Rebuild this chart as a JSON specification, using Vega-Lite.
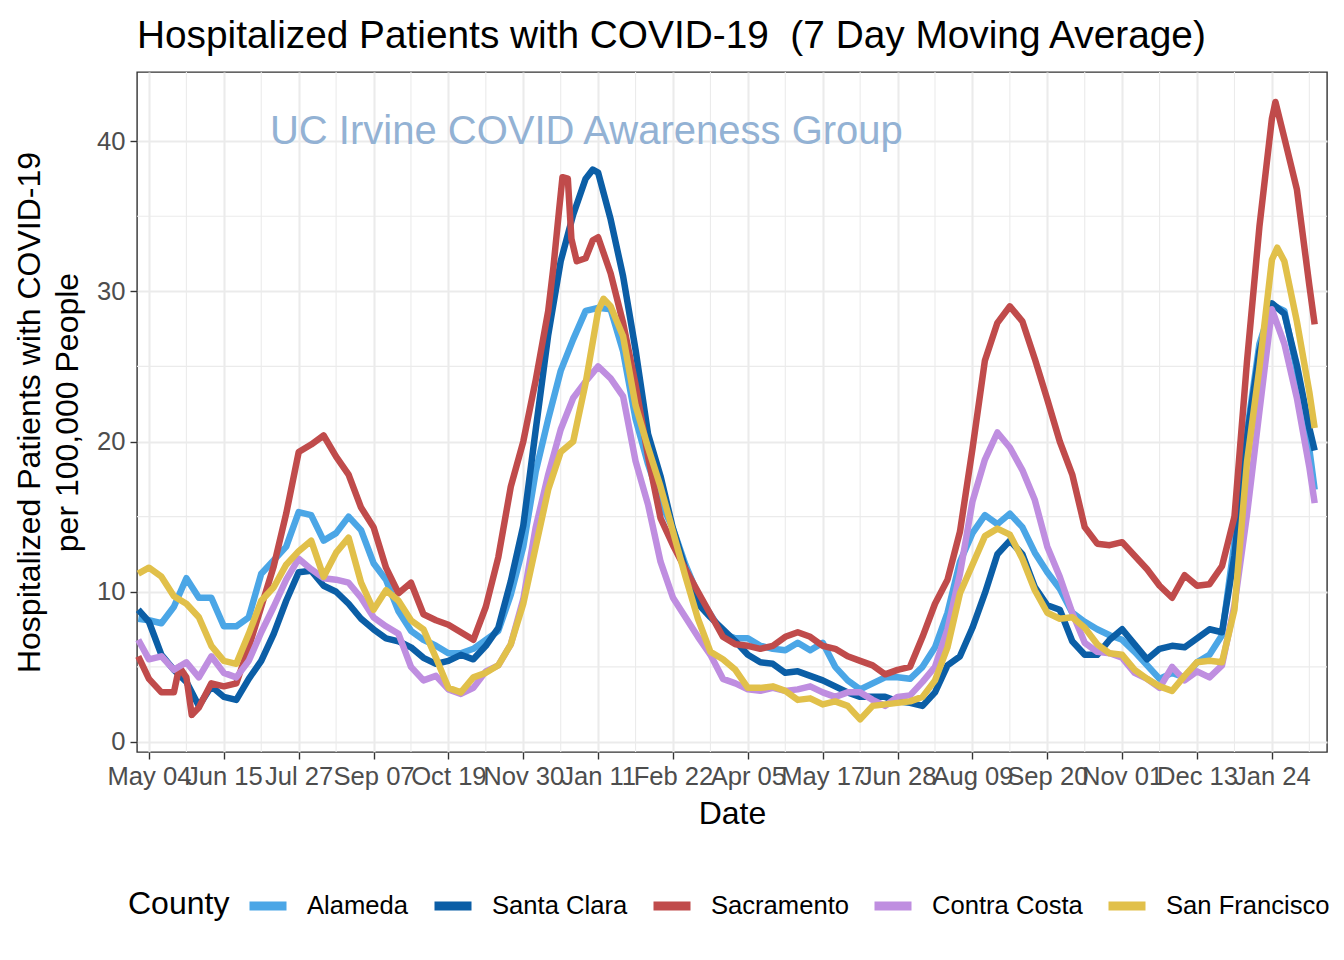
{
"$schema": "https://vega.github.io/schema/vega-lite/v6.json",
"autosize": {"type": "none"},
"width": 1190,
"height": 680,
"padding": {"left": 137, "top": 72, "right": 17, "bottom": 208},
"background": "#ffffff",
"title": {"text": "Hospitalized Patients with COVID-19\u00a0 (7 Day Moving Average)"},
"datasets": {
"series": [
{"date":"2020-04-28","county":"Alameda","value":8.2},{"date":"2020-05-04","county":"Alameda","value":8.1},{"date":"2020-05-11","county":"Alameda","value":7.9},{"date":"2020-05-18","county":"Alameda","value":9.0},{"date":"2020-05-25","county":"Alameda","value":10.9},{"date":"2020-06-01","county":"Alameda","value":9.6},{"date":"2020-06-08","county":"Alameda","value":9.6},{"date":"2020-06-15","county":"Alameda","value":7.7},{"date":"2020-06-22","county":"Alameda","value":7.7},{"date":"2020-06-29","county":"Alameda","value":8.3},{"date":"2020-07-06","county":"Alameda","value":11.2},{"date":"2020-07-13","county":"Alameda","value":12.1},{"date":"2020-07-20","county":"Alameda","value":13.0},{"date":"2020-07-27","county":"Alameda","value":15.3},{"date":"2020-08-03","county":"Alameda","value":15.1},{"date":"2020-08-10","county":"Alameda","value":13.4},{"date":"2020-08-17","county":"Alameda","value":13.9},{"date":"2020-08-24","county":"Alameda","value":15.0},{"date":"2020-08-31","county":"Alameda","value":14.1},{"date":"2020-09-07","county":"Alameda","value":11.9},{"date":"2020-09-14","county":"Alameda","value":10.8},{"date":"2020-09-21","county":"Alameda","value":8.7},{"date":"2020-09-28","county":"Alameda","value":7.4},{"date":"2020-10-05","county":"Alameda","value":6.8},{"date":"2020-10-12","county":"Alameda","value":6.4},{"date":"2020-10-19","county":"Alameda","value":5.9},{"date":"2020-10-26","county":"Alameda","value":5.9},{"date":"2020-11-02","county":"Alameda","value":6.2},{"date":"2020-11-09","county":"Alameda","value":6.8},{"date":"2020-11-16","county":"Alameda","value":7.4},{"date":"2020-11-23","county":"Alameda","value":9.8},{"date":"2020-11-30","county":"Alameda","value":13.0},{"date":"2020-12-07","county":"Alameda","value":18.0},{"date":"2020-12-14","county":"Alameda","value":21.5},{"date":"2020-12-21","county":"Alameda","value":24.7},{"date":"2020-12-28","county":"Alameda","value":26.8},{"date":"2021-01-04","county":"Alameda","value":28.7},{"date":"2021-01-11","county":"Alameda","value":28.9},{"date":"2021-01-18","county":"Alameda","value":28.8},{"date":"2021-01-25","county":"Alameda","value":26.0},{"date":"2021-02-01","county":"Alameda","value":21.5},{"date":"2021-02-08","county":"Alameda","value":18.5},{"date":"2021-02-15","county":"Alameda","value":16.0},{"date":"2021-02-22","county":"Alameda","value":14.2},{"date":"2021-03-01","county":"Alameda","value":11.8},{"date":"2021-03-08","county":"Alameda","value":9.8},{"date":"2021-03-15","county":"Alameda","value":8.5},{"date":"2021-03-22","county":"Alameda","value":7.2},{"date":"2021-03-29","county":"Alameda","value":6.9},{"date":"2021-04-05","county":"Alameda","value":6.9},{"date":"2021-04-12","county":"Alameda","value":6.4},{"date":"2021-04-19","county":"Alameda","value":6.2},{"date":"2021-04-26","county":"Alameda","value":6.1},{"date":"2021-05-03","county":"Alameda","value":6.6},{"date":"2021-05-10","county":"Alameda","value":6.1},{"date":"2021-05-17","county":"Alameda","value":6.6},{"date":"2021-05-24","county":"Alameda","value":5.0},{"date":"2021-05-31","county":"Alameda","value":4.1},{"date":"2021-06-07","county":"Alameda","value":3.5},{"date":"2021-06-14","county":"Alameda","value":3.9},{"date":"2021-06-21","county":"Alameda","value":4.3},{"date":"2021-06-28","county":"Alameda","value":4.3},{"date":"2021-07-05","county":"Alameda","value":4.2},{"date":"2021-07-12","county":"Alameda","value":5.0},{"date":"2021-07-19","county":"Alameda","value":6.3},{"date":"2021-07-26","county":"Alameda","value":8.6},{"date":"2021-08-02","county":"Alameda","value":12.0},{"date":"2021-08-09","county":"Alameda","value":13.9},{"date":"2021-08-16","county":"Alameda","value":15.1},{"date":"2021-08-23","county":"Alameda","value":14.5},{"date":"2021-08-30","county":"Alameda","value":15.2},{"date":"2021-09-06","county":"Alameda","value":14.3},{"date":"2021-09-13","county":"Alameda","value":12.6},{"date":"2021-09-20","county":"Alameda","value":11.3},{"date":"2021-09-27","county":"Alameda","value":10.2},{"date":"2021-10-04","county":"Alameda","value":8.6},{"date":"2021-10-11","county":"Alameda","value":8.0},{"date":"2021-10-18","county":"Alameda","value":7.5},{"date":"2021-10-25","county":"Alameda","value":7.1},{"date":"2021-11-01","county":"Alameda","value":6.8},{"date":"2021-11-08","county":"Alameda","value":6.0},{"date":"2021-11-15","county":"Alameda","value":5.1},{"date":"2021-11-22","county":"Alameda","value":4.2},{"date":"2021-11-29","county":"Alameda","value":4.6},{"date":"2021-12-06","county":"Alameda","value":4.3},{"date":"2021-12-13","county":"Alameda","value":5.3},{"date":"2021-12-20","county":"Alameda","value":5.8},{"date":"2021-12-27","county":"Alameda","value":7.1},{"date":"2022-01-03","county":"Alameda","value":13.3},{"date":"2022-01-10","county":"Alameda","value":20.6},{"date":"2022-01-17","county":"Alameda","value":26.5},{"date":"2022-01-24","county":"Alameda","value":29.1},{"date":"2022-01-31","county":"Alameda","value":28.7},{"date":"2022-02-07","county":"Alameda","value":24.7},{"date":"2022-02-14","county":"Alameda","value":19.5},{"date":"2022-02-17","county":"Alameda","value":16.8},
{"date":"2020-04-28","county":"Santa Clara","value":8.8},{"date":"2020-05-04","county":"Santa Clara","value":8.0},{"date":"2020-05-11","county":"Santa Clara","value":5.8},{"date":"2020-05-18","county":"Santa Clara","value":4.8},{"date":"2020-05-25","county":"Santa Clara","value":4.0},{"date":"2020-06-01","county":"Santa Clara","value":2.4},{"date":"2020-06-08","county":"Santa Clara","value":3.7},{"date":"2020-06-15","county":"Santa Clara","value":3.0},{"date":"2020-06-22","county":"Santa Clara","value":2.8},{"date":"2020-06-29","county":"Santa Clara","value":4.2},{"date":"2020-07-06","county":"Santa Clara","value":5.4},{"date":"2020-07-13","county":"Santa Clara","value":7.2},{"date":"2020-07-20","county":"Santa Clara","value":9.4},{"date":"2020-07-27","county":"Santa Clara","value":11.3},{"date":"2020-08-03","county":"Santa Clara","value":11.4},{"date":"2020-08-10","county":"Santa Clara","value":10.4},{"date":"2020-08-17","county":"Santa Clara","value":10.0},{"date":"2020-08-24","county":"Santa Clara","value":9.2},{"date":"2020-08-31","county":"Santa Clara","value":8.2},{"date":"2020-09-07","county":"Santa Clara","value":7.5},{"date":"2020-09-14","county":"Santa Clara","value":6.9},{"date":"2020-09-21","county":"Santa Clara","value":6.7},{"date":"2020-09-28","county":"Santa Clara","value":6.3},{"date":"2020-10-05","county":"Santa Clara","value":5.6},{"date":"2020-10-12","county":"Santa Clara","value":5.2},{"date":"2020-10-19","county":"Santa Clara","value":5.4},{"date":"2020-10-26","county":"Santa Clara","value":5.8},{"date":"2020-11-02","county":"Santa Clara","value":5.5},{"date":"2020-11-09","county":"Santa Clara","value":6.4},{"date":"2020-11-16","county":"Santa Clara","value":7.6},{"date":"2020-11-23","county":"Santa Clara","value":10.7},{"date":"2020-11-30","county":"Santa Clara","value":14.4},{"date":"2020-12-07","county":"Santa Clara","value":20.8},{"date":"2020-12-14","county":"Santa Clara","value":27.1},{"date":"2020-12-21","county":"Santa Clara","value":32.0},{"date":"2020-12-28","county":"Santa Clara","value":35.1},{"date":"2021-01-04","county":"Santa Clara","value":37.5},{"date":"2021-01-08","county":"Santa Clara","value":38.1},{"date":"2021-01-11","county":"Santa Clara","value":37.9},{"date":"2021-01-18","county":"Santa Clara","value":34.8},{"date":"2021-01-25","county":"Santa Clara","value":31.0},{"date":"2021-02-01","county":"Santa Clara","value":26.1},{"date":"2021-02-08","county":"Santa Clara","value":20.5},{"date":"2021-02-15","county":"Santa Clara","value":17.7},{"date":"2021-02-22","county":"Santa Clara","value":14.2},{"date":"2021-03-01","county":"Santa Clara","value":11.5},{"date":"2021-03-08","county":"Santa Clara","value":9.2},{"date":"2021-03-15","county":"Santa Clara","value":8.3},{"date":"2021-03-22","county":"Santa Clara","value":7.5},{"date":"2021-03-29","county":"Santa Clara","value":6.7},{"date":"2021-04-05","county":"Santa Clara","value":5.8},{"date":"2021-04-12","county":"Santa Clara","value":5.3},{"date":"2021-04-19","county":"Santa Clara","value":5.2},{"date":"2021-04-26","county":"Santa Clara","value":4.6},{"date":"2021-05-03","county":"Santa Clara","value":4.7},{"date":"2021-05-10","county":"Santa Clara","value":4.4},{"date":"2021-05-17","county":"Santa Clara","value":4.1},{"date":"2021-05-24","county":"Santa Clara","value":3.7},{"date":"2021-05-31","county":"Santa Clara","value":3.3},{"date":"2021-06-07","county":"Santa Clara","value":3.0},{"date":"2021-06-14","county":"Santa Clara","value":3.0},{"date":"2021-06-21","county":"Santa Clara","value":3.0},{"date":"2021-06-28","county":"Santa Clara","value":2.7},{"date":"2021-07-05","county":"Santa Clara","value":2.6},{"date":"2021-07-12","county":"Santa Clara","value":2.4},{"date":"2021-07-19","county":"Santa Clara","value":3.3},{"date":"2021-07-26","county":"Santa Clara","value":5.1},{"date":"2021-08-02","county":"Santa Clara","value":5.7},{"date":"2021-08-09","county":"Santa Clara","value":7.6},{"date":"2021-08-16","county":"Santa Clara","value":9.9},{"date":"2021-08-23","county":"Santa Clara","value":12.5},{"date":"2021-08-30","county":"Santa Clara","value":13.4},{"date":"2021-09-06","county":"Santa Clara","value":12.5},{"date":"2021-09-13","county":"Santa Clara","value":10.3},{"date":"2021-09-20","county":"Santa Clara","value":9.1},{"date":"2021-09-27","county":"Santa Clara","value":8.8},{"date":"2021-10-04","county":"Santa Clara","value":6.7},{"date":"2021-10-11","county":"Santa Clara","value":5.8},{"date":"2021-10-18","county":"Santa Clara","value":5.8},{"date":"2021-10-25","county":"Santa Clara","value":6.8},{"date":"2021-11-01","county":"Santa Clara","value":7.5},{"date":"2021-11-08","county":"Santa Clara","value":6.5},{"date":"2021-11-15","county":"Santa Clara","value":5.5},{"date":"2021-11-22","county":"Santa Clara","value":6.2},{"date":"2021-11-29","county":"Santa Clara","value":6.4},{"date":"2021-12-06","county":"Santa Clara","value":6.3},{"date":"2021-12-13","county":"Santa Clara","value":6.9},{"date":"2021-12-20","county":"Santa Clara","value":7.5},{"date":"2021-12-27","county":"Santa Clara","value":7.3},{"date":"2022-01-03","county":"Santa Clara","value":12.4},{"date":"2022-01-10","county":"Santa Clara","value":20.3},{"date":"2022-01-17","county":"Santa Clara","value":26.0},{"date":"2022-01-24","county":"Santa Clara","value":29.2},{"date":"2022-01-31","county":"Santa Clara","value":28.5},{"date":"2022-02-07","county":"Santa Clara","value":25.1},{"date":"2022-02-14","county":"Santa Clara","value":20.9},{"date":"2022-02-17","county":"Santa Clara","value":19.4},
{"date":"2020-04-28","county":"Sacramento","value":5.7},{"date":"2020-05-04","county":"Sacramento","value":4.2},{"date":"2020-05-11","county":"Sacramento","value":3.3},{"date":"2020-05-18","county":"Sacramento","value":3.3},{"date":"2020-05-21","county":"Sacramento","value":5.0},{"date":"2020-05-25","county":"Sacramento","value":4.3},{"date":"2020-05-28","county":"Sacramento","value":1.8},{"date":"2020-06-01","county":"Sacramento","value":2.3},{"date":"2020-06-08","county":"Sacramento","value":3.9},{"date":"2020-06-15","county":"Sacramento","value":3.7},{"date":"2020-06-22","county":"Sacramento","value":3.9},{"date":"2020-06-29","county":"Sacramento","value":6.3},{"date":"2020-07-06","county":"Sacramento","value":9.0},{"date":"2020-07-13","county":"Sacramento","value":11.7},{"date":"2020-07-20","county":"Sacramento","value":15.2},{"date":"2020-07-27","county":"Sacramento","value":19.3},{"date":"2020-08-03","county":"Sacramento","value":19.8},{"date":"2020-08-10","county":"Sacramento","value":20.4},{"date":"2020-08-17","county":"Sacramento","value":19.0},{"date":"2020-08-24","county":"Sacramento","value":17.8},{"date":"2020-08-31","county":"Sacramento","value":15.6},{"date":"2020-09-07","county":"Sacramento","value":14.3},{"date":"2020-09-14","county":"Sacramento","value":11.6},{"date":"2020-09-21","county":"Sacramento","value":9.9},{"date":"2020-09-28","county":"Sacramento","value":10.6},{"date":"2020-10-05","county":"Sacramento","value":8.5},{"date":"2020-10-12","county":"Sacramento","value":8.1},{"date":"2020-10-19","county":"Sacramento","value":7.8},{"date":"2020-10-26","county":"Sacramento","value":7.3},{"date":"2020-11-02","county":"Sacramento","value":6.8},{"date":"2020-11-09","county":"Sacramento","value":9.0},{"date":"2020-11-16","county":"Sacramento","value":12.3},{"date":"2020-11-23","county":"Sacramento","value":17.0},{"date":"2020-11-30","county":"Sacramento","value":20.0},{"date":"2020-12-07","county":"Sacramento","value":24.1},{"date":"2020-12-14","county":"Sacramento","value":28.7},{"date":"2020-12-17","county":"Sacramento","value":31.7},{"date":"2020-12-20","county":"Sacramento","value":35.3},{"date":"2020-12-22","county":"Sacramento","value":37.6},{"date":"2020-12-25","county":"Sacramento","value":37.5},{"date":"2020-12-27","county":"Sacramento","value":33.5},{"date":"2020-12-30","county":"Sacramento","value":32.0},{"date":"2021-01-04","county":"Sacramento","value":32.2},{"date":"2021-01-08","county":"Sacramento","value":33.4},{"date":"2021-01-11","county":"Sacramento","value":33.6},{"date":"2021-01-18","county":"Sacramento","value":31.2},{"date":"2021-01-25","county":"Sacramento","value":27.9},{"date":"2021-02-01","county":"Sacramento","value":23.8},{"date":"2021-02-08","county":"Sacramento","value":19.0},{"date":"2021-02-15","county":"Sacramento","value":14.9},{"date":"2021-02-22","county":"Sacramento","value":13.1},{"date":"2021-03-01","county":"Sacramento","value":11.5},{"date":"2021-03-08","county":"Sacramento","value":10.0},{"date":"2021-03-15","county":"Sacramento","value":8.5},{"date":"2021-03-22","county":"Sacramento","value":7.0},{"date":"2021-03-29","county":"Sacramento","value":6.5},{"date":"2021-04-05","county":"Sacramento","value":6.4},{"date":"2021-04-12","county":"Sacramento","value":6.2},{"date":"2021-04-19","county":"Sacramento","value":6.4},{"date":"2021-04-26","county":"Sacramento","value":7.0},{"date":"2021-05-03","county":"Sacramento","value":7.3},{"date":"2021-05-10","county":"Sacramento","value":7.0},{"date":"2021-05-17","county":"Sacramento","value":6.4},{"date":"2021-05-24","county":"Sacramento","value":6.2},{"date":"2021-05-31","county":"Sacramento","value":5.7},{"date":"2021-06-07","county":"Sacramento","value":5.4},{"date":"2021-06-14","county":"Sacramento","value":5.1},{"date":"2021-06-21","county":"Sacramento","value":4.5},{"date":"2021-06-28","county":"Sacramento","value":4.8},{"date":"2021-07-05","county":"Sacramento","value":5.0},{"date":"2021-07-12","county":"Sacramento","value":7.0},{"date":"2021-07-19","county":"Sacramento","value":9.2},{"date":"2021-07-26","county":"Sacramento","value":10.8},{"date":"2021-08-02","county":"Sacramento","value":14.0},{"date":"2021-08-09","county":"Sacramento","value":19.5},{"date":"2021-08-16","county":"Sacramento","value":25.4},{"date":"2021-08-23","county":"Sacramento","value":27.9},{"date":"2021-08-30","county":"Sacramento","value":29.0},{"date":"2021-09-06","county":"Sacramento","value":28.0},{"date":"2021-09-13","county":"Sacramento","value":25.5},{"date":"2021-09-20","county":"Sacramento","value":22.8},{"date":"2021-09-27","county":"Sacramento","value":20.0},{"date":"2021-10-04","county":"Sacramento","value":17.8},{"date":"2021-10-11","county":"Sacramento","value":14.3},{"date":"2021-10-18","county":"Sacramento","value":13.2},{"date":"2021-10-25","county":"Sacramento","value":13.1},{"date":"2021-11-01","county":"Sacramento","value":13.3},{"date":"2021-11-08","county":"Sacramento","value":12.4},{"date":"2021-11-15","county":"Sacramento","value":11.5},{"date":"2021-11-22","county":"Sacramento","value":10.4},{"date":"2021-11-29","county":"Sacramento","value":9.6},{"date":"2021-12-06","county":"Sacramento","value":11.1},{"date":"2021-12-13","county":"Sacramento","value":10.4},{"date":"2021-12-20","county":"Sacramento","value":10.5},{"date":"2021-12-27","county":"Sacramento","value":11.7},{"date":"2022-01-03","county":"Sacramento","value":15.0},{"date":"2022-01-10","county":"Sacramento","value":25.3},{"date":"2022-01-17","county":"Sacramento","value":34.3},{"date":"2022-01-24","county":"Sacramento","value":41.5},{"date":"2022-01-26","county":"Sacramento","value":42.6},{"date":"2022-01-31","county":"Sacramento","value":40.2},{"date":"2022-02-07","county":"Sacramento","value":36.8},{"date":"2022-02-14","county":"Sacramento","value":30.4},{"date":"2022-02-17","county":"Sacramento","value":27.8},
{"date":"2020-04-28","county":"Contra Costa","value":6.8},{"date":"2020-05-04","county":"Contra Costa","value":5.5},{"date":"2020-05-11","county":"Contra Costa","value":5.7},{"date":"2020-05-18","county":"Contra Costa","value":4.8},{"date":"2020-05-25","county":"Contra Costa","value":5.3},{"date":"2020-06-01","county":"Contra Costa","value":4.3},{"date":"2020-06-08","county":"Contra Costa","value":5.7},{"date":"2020-06-15","county":"Contra Costa","value":4.6},{"date":"2020-06-22","county":"Contra Costa","value":4.3},{"date":"2020-06-29","county":"Contra Costa","value":5.4},{"date":"2020-07-06","county":"Contra Costa","value":7.3},{"date":"2020-07-13","county":"Contra Costa","value":9.0},{"date":"2020-07-20","county":"Contra Costa","value":10.8},{"date":"2020-07-27","county":"Contra Costa","value":12.2},{"date":"2020-08-03","county":"Contra Costa","value":11.5},{"date":"2020-08-10","county":"Contra Costa","value":10.9},{"date":"2020-08-17","county":"Contra Costa","value":10.8},{"date":"2020-08-24","county":"Contra Costa","value":10.6},{"date":"2020-08-31","county":"Contra Costa","value":9.6},{"date":"2020-09-07","county":"Contra Costa","value":8.3},{"date":"2020-09-14","county":"Contra Costa","value":7.7},{"date":"2020-09-21","county":"Contra Costa","value":7.2},{"date":"2020-09-28","county":"Contra Costa","value":5.0},{"date":"2020-10-05","county":"Contra Costa","value":4.1},{"date":"2020-10-12","county":"Contra Costa","value":4.4},{"date":"2020-10-19","county":"Contra Costa","value":3.5},{"date":"2020-10-26","county":"Contra Costa","value":3.2},{"date":"2020-11-02","county":"Contra Costa","value":3.6},{"date":"2020-11-09","county":"Contra Costa","value":4.7},{"date":"2020-11-16","county":"Contra Costa","value":5.1},{"date":"2020-11-23","county":"Contra Costa","value":6.5},{"date":"2020-11-30","county":"Contra Costa","value":9.5},{"date":"2020-12-07","county":"Contra Costa","value":14.3},{"date":"2020-12-14","county":"Contra Costa","value":17.8},{"date":"2020-12-21","county":"Contra Costa","value":20.8},{"date":"2020-12-28","county":"Contra Costa","value":22.9},{"date":"2021-01-04","county":"Contra Costa","value":24.0},{"date":"2021-01-11","county":"Contra Costa","value":25.0},{"date":"2021-01-18","county":"Contra Costa","value":24.2},{"date":"2021-01-25","county":"Contra Costa","value":23.0},{"date":"2021-02-01","county":"Contra Costa","value":18.7},{"date":"2021-02-08","county":"Contra Costa","value":15.8},{"date":"2021-02-15","county":"Contra Costa","value":12.0},{"date":"2021-02-22","county":"Contra Costa","value":9.6},{"date":"2021-03-01","county":"Contra Costa","value":8.3},{"date":"2021-03-08","county":"Contra Costa","value":7.0},{"date":"2021-03-15","county":"Contra Costa","value":5.8},{"date":"2021-03-22","county":"Contra Costa","value":4.2},{"date":"2021-03-29","county":"Contra Costa","value":3.9},{"date":"2021-04-05","county":"Contra Costa","value":3.5},{"date":"2021-04-12","county":"Contra Costa","value":3.4},{"date":"2021-04-19","county":"Contra Costa","value":3.6},{"date":"2021-04-26","county":"Contra Costa","value":3.4},{"date":"2021-05-03","county":"Contra Costa","value":3.5},{"date":"2021-05-10","county":"Contra Costa","value":3.7},{"date":"2021-05-17","county":"Contra Costa","value":3.3},{"date":"2021-05-24","county":"Contra Costa","value":3.0},{"date":"2021-05-31","county":"Contra Costa","value":3.3},{"date":"2021-06-07","county":"Contra Costa","value":3.3},{"date":"2021-06-14","county":"Contra Costa","value":2.8},{"date":"2021-06-21","county":"Contra Costa","value":2.4},{"date":"2021-06-28","county":"Contra Costa","value":3.0},{"date":"2021-07-05","county":"Contra Costa","value":3.1},{"date":"2021-07-12","county":"Contra Costa","value":4.0},{"date":"2021-07-19","county":"Contra Costa","value":5.0},{"date":"2021-07-26","county":"Contra Costa","value":7.5},{"date":"2021-08-02","county":"Contra Costa","value":11.2},{"date":"2021-08-09","county":"Contra Costa","value":16.0},{"date":"2021-08-16","county":"Contra Costa","value":18.8},{"date":"2021-08-23","county":"Contra Costa","value":20.6},{"date":"2021-08-30","county":"Contra Costa","value":19.6},{"date":"2021-09-06","county":"Contra Costa","value":18.1},{"date":"2021-09-13","county":"Contra Costa","value":16.1},{"date":"2021-09-20","county":"Contra Costa","value":13.0},{"date":"2021-09-27","county":"Contra Costa","value":11.0},{"date":"2021-10-04","county":"Contra Costa","value":8.6},{"date":"2021-10-11","county":"Contra Costa","value":6.6},{"date":"2021-10-18","county":"Contra Costa","value":6.0},{"date":"2021-10-25","county":"Contra Costa","value":5.9},{"date":"2021-11-01","county":"Contra Costa","value":5.6},{"date":"2021-11-08","county":"Contra Costa","value":4.6},{"date":"2021-11-15","county":"Contra Costa","value":4.2},{"date":"2021-11-22","county":"Contra Costa","value":3.6},{"date":"2021-11-29","county":"Contra Costa","value":5.0},{"date":"2021-12-06","county":"Contra Costa","value":4.1},{"date":"2021-12-13","county":"Contra Costa","value":4.7},{"date":"2021-12-20","county":"Contra Costa","value":4.3},{"date":"2021-12-27","county":"Contra Costa","value":5.1},{"date":"2022-01-03","county":"Contra Costa","value":9.1},{"date":"2022-01-10","county":"Contra Costa","value":15.1},{"date":"2022-01-17","county":"Contra Costa","value":22.0},{"date":"2022-01-24","county":"Contra Costa","value":28.8},{"date":"2022-01-31","county":"Contra Costa","value":26.5},{"date":"2022-02-07","county":"Contra Costa","value":22.9},{"date":"2022-02-14","county":"Contra Costa","value":18.3},{"date":"2022-02-17","county":"Contra Costa","value":15.9},
{"date":"2020-04-28","county":"San Francisco","value":11.2},{"date":"2020-05-04","county":"San Francisco","value":11.6},{"date":"2020-05-11","county":"San Francisco","value":11.0},{"date":"2020-05-18","county":"San Francisco","value":9.7},{"date":"2020-05-25","county":"San Francisco","value":9.2},{"date":"2020-06-01","county":"San Francisco","value":8.3},{"date":"2020-06-08","county":"San Francisco","value":6.4},{"date":"2020-06-15","county":"San Francisco","value":5.4},{"date":"2020-06-22","county":"San Francisco","value":5.2},{"date":"2020-06-29","county":"San Francisco","value":7.2},{"date":"2020-07-06","county":"San Francisco","value":9.4},{"date":"2020-07-13","county":"San Francisco","value":10.3},{"date":"2020-07-20","county":"San Francisco","value":11.8},{"date":"2020-07-27","county":"San Francisco","value":12.7},{"date":"2020-08-03","county":"San Francisco","value":13.4},{"date":"2020-08-10","county":"San Francisco","value":11.0},{"date":"2020-08-17","county":"San Francisco","value":12.6},{"date":"2020-08-24","county":"San Francisco","value":13.6},{"date":"2020-08-31","county":"San Francisco","value":10.6},{"date":"2020-09-07","county":"San Francisco","value":8.8},{"date":"2020-09-14","county":"San Francisco","value":10.1},{"date":"2020-09-21","county":"San Francisco","value":9.4},{"date":"2020-09-28","county":"San Francisco","value":8.1},{"date":"2020-10-05","county":"San Francisco","value":7.5},{"date":"2020-10-12","county":"San Francisco","value":5.6},{"date":"2020-10-19","county":"San Francisco","value":3.6},{"date":"2020-10-26","county":"San Francisco","value":3.3},{"date":"2020-11-02","county":"San Francisco","value":4.3},{"date":"2020-11-09","county":"San Francisco","value":4.6},{"date":"2020-11-16","county":"San Francisco","value":5.1},{"date":"2020-11-23","county":"San Francisco","value":6.5},{"date":"2020-11-30","county":"San Francisco","value":9.2},{"date":"2020-12-07","county":"San Francisco","value":13.0},{"date":"2020-12-14","county":"San Francisco","value":16.8},{"date":"2020-12-21","county":"San Francisco","value":19.3},{"date":"2020-12-28","county":"San Francisco","value":20.0},{"date":"2021-01-04","county":"San Francisco","value":23.9},{"date":"2021-01-11","county":"San Francisco","value":28.7},{"date":"2021-01-14","county":"San Francisco","value":29.5},{"date":"2021-01-18","county":"San Francisco","value":29.0},{"date":"2021-01-25","county":"San Francisco","value":27.0},{"date":"2021-02-01","county":"San Francisco","value":22.4},{"date":"2021-02-08","county":"San Francisco","value":19.6},{"date":"2021-02-15","county":"San Francisco","value":17.0},{"date":"2021-02-22","county":"San Francisco","value":14.0},{"date":"2021-03-01","county":"San Francisco","value":11.0},{"date":"2021-03-08","county":"San Francisco","value":8.2},{"date":"2021-03-15","county":"San Francisco","value":6.0},{"date":"2021-03-22","county":"San Francisco","value":5.5},{"date":"2021-03-29","county":"San Francisco","value":4.8},{"date":"2021-04-05","county":"San Francisco","value":3.6},{"date":"2021-04-12","county":"San Francisco","value":3.6},{"date":"2021-04-19","county":"San Francisco","value":3.7},{"date":"2021-04-26","county":"San Francisco","value":3.4},{"date":"2021-05-03","county":"San Francisco","value":2.8},{"date":"2021-05-10","county":"San Francisco","value":2.9},{"date":"2021-05-17","county":"San Francisco","value":2.5},{"date":"2021-05-24","county":"San Francisco","value":2.7},{"date":"2021-05-31","county":"San Francisco","value":2.4},{"date":"2021-06-07","county":"San Francisco","value":1.5},{"date":"2021-06-14","county":"San Francisco","value":2.4},{"date":"2021-06-21","county":"San Francisco","value":2.5},{"date":"2021-06-28","county":"San Francisco","value":2.6},{"date":"2021-07-05","county":"San Francisco","value":2.7},{"date":"2021-07-12","county":"San Francisco","value":3.0},{"date":"2021-07-19","county":"San Francisco","value":4.1},{"date":"2021-07-26","county":"San Francisco","value":6.3},{"date":"2021-08-02","county":"San Francisco","value":9.9},{"date":"2021-08-09","county":"San Francisco","value":11.8},{"date":"2021-08-16","county":"San Francisco","value":13.7},{"date":"2021-08-23","county":"San Francisco","value":14.2},{"date":"2021-08-30","county":"San Francisco","value":13.8},{"date":"2021-09-06","county":"San Francisco","value":12.2},{"date":"2021-09-13","county":"San Francisco","value":10.1},{"date":"2021-09-20","county":"San Francisco","value":8.6},{"date":"2021-09-27","county":"San Francisco","value":8.2},{"date":"2021-10-04","county":"San Francisco","value":8.3},{"date":"2021-10-11","county":"San Francisco","value":7.6},{"date":"2021-10-18","county":"San Francisco","value":6.5},{"date":"2021-10-25","county":"San Francisco","value":5.9},{"date":"2021-11-01","county":"San Francisco","value":5.8},{"date":"2021-11-08","county":"San Francisco","value":4.8},{"date":"2021-11-15","county":"San Francisco","value":4.2},{"date":"2021-11-22","county":"San Francisco","value":3.7},{"date":"2021-11-29","county":"San Francisco","value":3.4},{"date":"2021-12-06","county":"San Francisco","value":4.4},{"date":"2021-12-13","county":"San Francisco","value":5.3},{"date":"2021-12-20","county":"San Francisco","value":5.4},{"date":"2021-12-27","county":"San Francisco","value":5.3},{"date":"2022-01-03","county":"San Francisco","value":8.8},{"date":"2022-01-10","county":"San Francisco","value":18.6},{"date":"2022-01-17","county":"San Francisco","value":24.9},{"date":"2022-01-24","county":"San Francisco","value":32.1},{"date":"2022-01-27","county":"San Francisco","value":32.9},{"date":"2022-01-31","county":"San Francisco","value":32.0},{"date":"2022-02-07","county":"San Francisco","value":28.0},{"date":"2022-02-14","county":"San Francisco","value":23.3},{"date":"2022-02-17","county":"San Francisco","value":20.9}
],
"minorx": [{"date":"2020-05-25"},{"date":"2020-07-06"},{"date":"2020-08-17"},{"date":"2020-09-28"},{"date":"2020-11-09"},{"date":"2020-12-21"},{"date":"2021-02-01"},{"date":"2021-03-15"},{"date":"2021-04-26"},{"date":"2021-06-07"},{"date":"2021-07-19"},{"date":"2021-08-30"},{"date":"2021-10-11"},{"date":"2021-11-22"},{"date":"2022-01-03"},{"date":"2022-02-14"}],
"minory": [{"value":5},{"value":15},{"value":25},{"value":35}],
"note": [{"date":"2021-01-04T10:00:00Z","value":39.8,"label":"UC Irvine COVID Awareness Group"}]
},
"layer": [
{
"data": {"name": "minorx"},
"mark": {"type": "rule", "color": "#ebebeb", "strokeWidth": 1.1},
"encoding": {
"x": {"field": "date", "type": "temporal",
"scale": {"type": "utc", "domain": [{"year":2020,"month":4,"date":27,"hours":7,"utc":true},{"year":2022,"month":2,"date":23,"hours":22,"utc":true}]},
"axis": {"title": "Date", "format": "%b %d", "values": [{"year":2020,"month":5,"date":4,"utc":true},{"year":2020,"month":6,"date":15,"utc":true},{"year":2020,"month":7,"date":27,"utc":true},{"year":2020,"month":9,"date":7,"utc":true},{"year":2020,"month":10,"date":19,"utc":true},{"year":2020,"month":11,"date":30,"utc":true},{"year":2021,"month":1,"date":11,"utc":true},{"year":2021,"month":2,"date":22,"utc":true},{"year":2021,"month":4,"date":5,"utc":true},{"year":2021,"month":5,"date":17,"utc":true},{"year":2021,"month":6,"date":28,"utc":true},{"year":2021,"month":8,"date":9,"utc":true},{"year":2021,"month":9,"date":20,"utc":true},{"year":2021,"month":11,"date":1,"utc":true},{"year":2021,"month":12,"date":13,"utc":true},{"year":2022,"month":1,"date":24,"utc":true}]}}
}
},
{
"data": {"name": "minory"},
"mark": {"type": "rule", "color": "#ebebeb", "strokeWidth": 1.1},
"encoding": {
"y": {"field": "value", "type": "quantitative",
"scale": {"domain": [-0.67, 44.6], "nice": false, "zero": false},
"axis": {"values": [0, 10, 20, 30, 40], "title": ["Hospitalized Patients with COVID-19", "per 100,000 People"]}}
}
},
{
"data": {"name": "note"},
"mark": {"type": "text", "font": "Liberation Sans", "fontSize": 40, "color": "#93b2d4", "align": "center", "baseline": "alphabetic"},
"encoding": {
"x": {"field": "date", "type": "temporal",
"scale": {"type": "utc", "domain": [{"year":2020,"month":4,"date":27,"hours":7,"utc":true},{"year":2022,"month":2,"date":23,"hours":22,"utc":true}]},
"axis": {"title": "Date", "format": "%b %d", "values": [{"year":2020,"month":5,"date":4,"utc":true},{"year":2020,"month":6,"date":15,"utc":true},{"year":2020,"month":7,"date":27,"utc":true},{"year":2020,"month":9,"date":7,"utc":true},{"year":2020,"month":10,"date":19,"utc":true},{"year":2020,"month":11,"date":30,"utc":true},{"year":2021,"month":1,"date":11,"utc":true},{"year":2021,"month":2,"date":22,"utc":true},{"year":2021,"month":4,"date":5,"utc":true},{"year":2021,"month":5,"date":17,"utc":true},{"year":2021,"month":6,"date":28,"utc":true},{"year":2021,"month":8,"date":9,"utc":true},{"year":2021,"month":9,"date":20,"utc":true},{"year":2021,"month":11,"date":1,"utc":true},{"year":2021,"month":12,"date":13,"utc":true},{"year":2022,"month":1,"date":24,"utc":true}]}},
"y": {"field": "value", "type": "quantitative",
"scale": {"domain": [-0.67, 44.6], "nice": false, "zero": false},
"axis": {"values": [0, 10, 20, 30, 40], "title": ["Hospitalized Patients with COVID-19", "per 100,000 People"]}},
"text": {"field": "label"}
}
},
{
"data": {"name": "series"},
"mark": {"type": "line", "strokeWidth": 6.5, "strokeJoin": "round", "strokeCap": "butt"},
"encoding": {
"x": {"field": "date", "type": "temporal",
"scale": {"type": "utc", "domain": [{"year":2020,"month":4,"date":27,"hours":7,"utc":true},{"year":2022,"month":2,"date":23,"hours":22,"utc":true}]},
"axis": {"title": "Date", "format": "%b %d", "values": [{"year":2020,"month":5,"date":4,"utc":true},{"year":2020,"month":6,"date":15,"utc":true},{"year":2020,"month":7,"date":27,"utc":true},{"year":2020,"month":9,"date":7,"utc":true},{"year":2020,"month":10,"date":19,"utc":true},{"year":2020,"month":11,"date":30,"utc":true},{"year":2021,"month":1,"date":11,"utc":true},{"year":2021,"month":2,"date":22,"utc":true},{"year":2021,"month":4,"date":5,"utc":true},{"year":2021,"month":5,"date":17,"utc":true},{"year":2021,"month":6,"date":28,"utc":true},{"year":2021,"month":8,"date":9,"utc":true},{"year":2021,"month":9,"date":20,"utc":true},{"year":2021,"month":11,"date":1,"utc":true},{"year":2021,"month":12,"date":13,"utc":true},{"year":2022,"month":1,"date":24,"utc":true}]}},
"y": {"field": "value", "type": "quantitative",
"scale": {"domain": [-0.67, 44.6], "nice": false, "zero": false},
"axis": {"values": [0, 10, 20, 30, 40], "title": ["Hospitalized Patients with COVID-19", "per 100,000 People"]}},
"color": {"field": "county", "type": "nominal",
"scale": {"domain": ["Alameda", "Santa Clara", "Sacramento", "Contra Costa", "San Francisco"], "range": ["#4ba6e6", "#0b5ea6", "#c04b4b", "#bf8ee0", "#e1c04a"]},
"legend": {"title": "County", "orient": "none", "legendX": -9, "legendY": 811, "direction": "horizontal", "titleOrient": "left", "symbolType": "stroke", "symbolSize": 1369, "symbolStrokeWidth": 9, "labelOffset": 16, "columnPadding": 7, "titlePadding": 15, "labelLimit": 400}}
}
}
],
"config": {
"font": "Liberation Sans",
"view": {"stroke": "#333333", "strokeWidth": 1.4},
"title": {"font": "Liberation Sans", "fontSize": 38.8, "fontWeight": "normal", "color": "#000000", "anchor": "start", "frame": "group", "offset": 16},
"axis": {"domain": false, "grid": true, "gridColor": "#ebebeb", "gridWidth": 2.1, "tickColor": "#333333", "tickWidth": 1.4, "tickSize": 7, "labelColor": "#4d4d4d", "labelFontSize": 25.6, "labelFont": "Liberation Sans", "labelPadding": 5, "titleFont": "Liberation Sans", "titleFontSize": 32, "titleFontWeight": "normal", "titleColor": "#000000"},
"axisX": {"labelOverlap": false, "labelFlush": false, "titlePadding": 9},
"axisY": {"titlePadding": 12, "titleLineHeight": 38},
"legend": {"titleFont": "Liberation Sans", "titleFontSize": 32, "titleFontWeight": "normal", "titleColor": "#000000", "labelFont": "Liberation Sans", "labelFontSize": 25.6, "labelColor": "#000000"}
}
}
